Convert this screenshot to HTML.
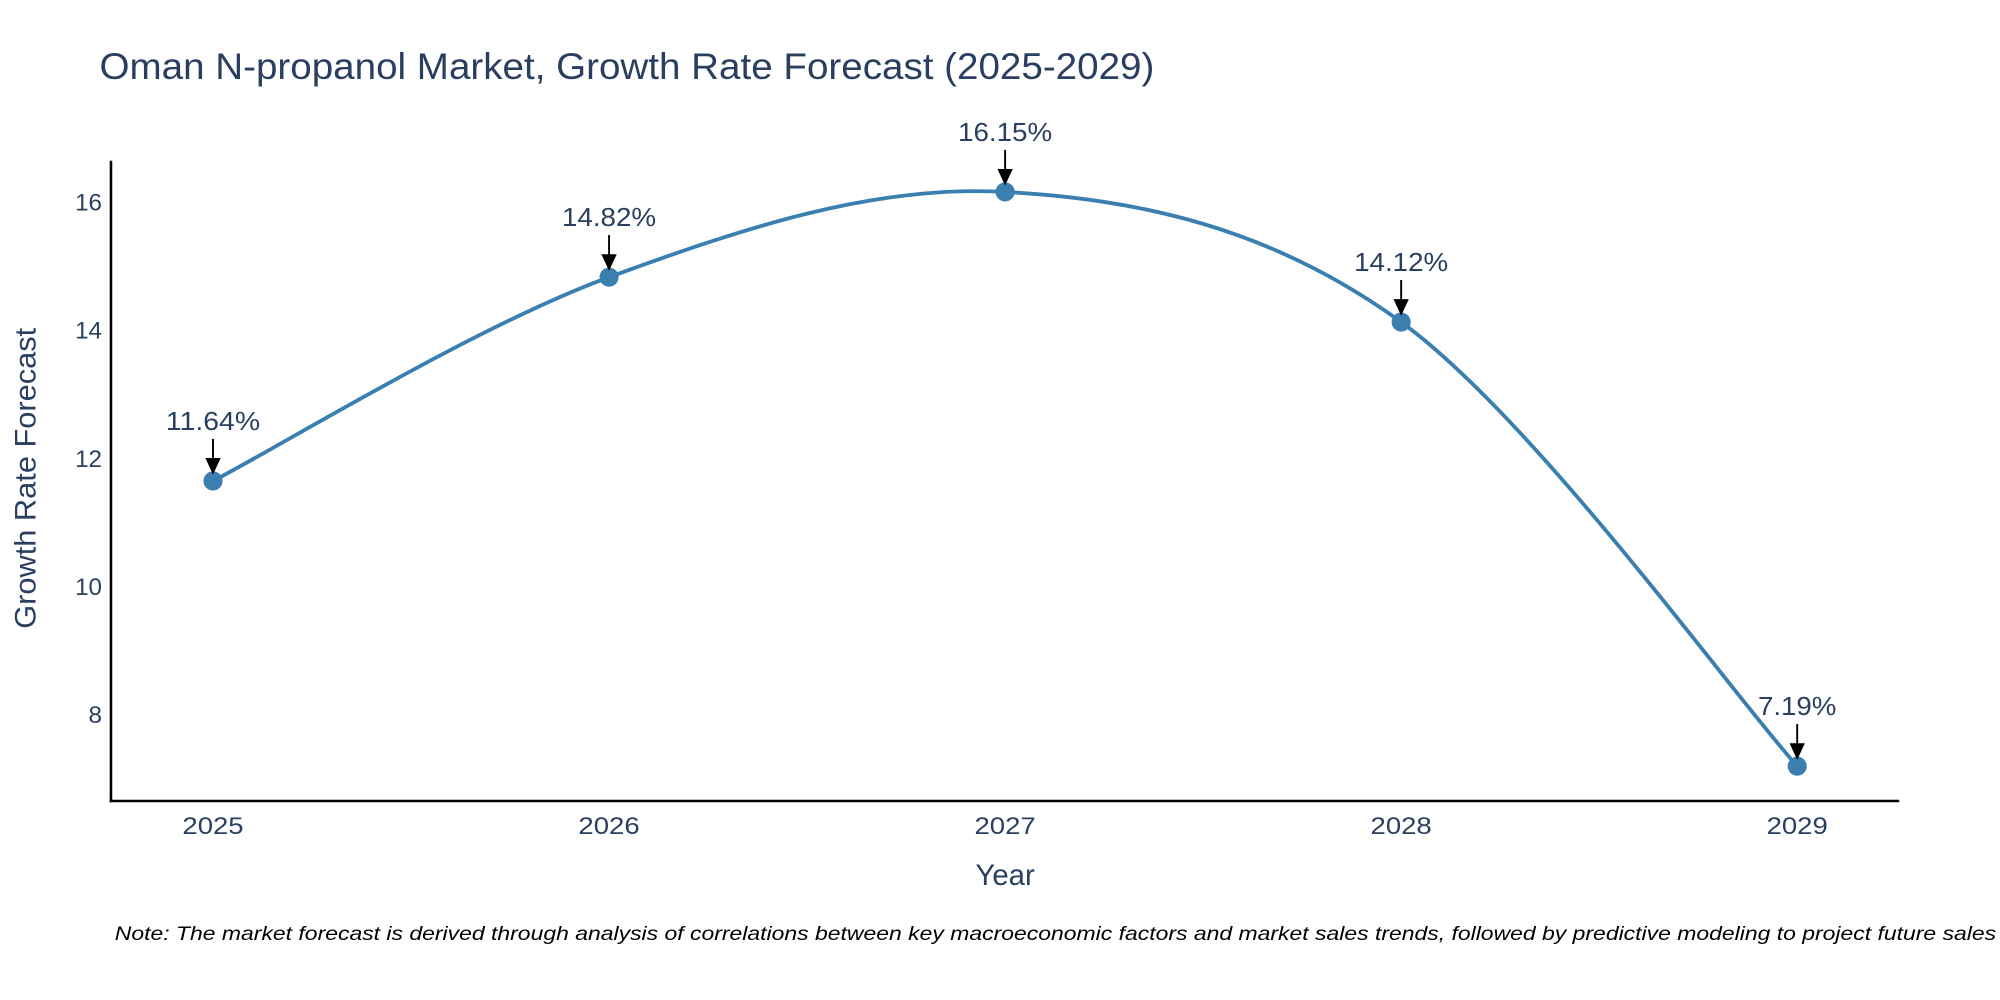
<!DOCTYPE html>
<html><head><meta charset="utf-8"><style>
html,body{margin:0;padding:0;background:#fff}
svg{display:block}
text{font-family:"Liberation Sans",sans-serif}
</style></head><body>
<svg width="2000" height="1000" viewBox="0 0 1568 784" xmlns="http://www.w3.org/2000/svg">
<text x="78" y="62" font-size="29" fill="#2a3f5f" textLength="827" lengthAdjust="spacingAndGlyphs">Oman N-propanol Market, Growth Rate Forecast (2025-2029)</text>
<g id="yticks"></g><g id="xticks"></g>
<line x1="87" y1="126" x2="87" y2="629" stroke="#000" stroke-width="2"/>
<line x1="86" y1="628" x2="1489" y2="628" stroke="#000" stroke-width="2"/>
<path id="line" fill="none" stroke="#3a7fb0" stroke-width="3"/>
<g id="pts"></g><g id="ann"></g>
<text x="28" y="375" font-size="23" fill="#2a3f5f" text-anchor="middle" textLength="236" lengthAdjust="spacingAndGlyphs" transform="rotate(-90 28 375)">Growth Rate Forecast</text>
<text x="788" y="694" font-size="23" fill="#2a3f5f" text-anchor="middle">Year</text>
<text x="90" y="737" font-size="15" font-style="italic" fill="#000" textLength="1475" lengthAdjust="spacingAndGlyphs">Note: The market forecast is derived through analysis of correlations between key macroeconomic factors and market sales trends, followed by predictive modeling to project future sales</text>
</svg>
<script>
const years=["2025","2026","2027","2028","2029"];
const values=[11.64,14.82,16.15,14.12,7.19];
const labels=["11.64%","14.82%","16.15%","14.12%","7.19%"];
const yTicks=[8,10,12,14,16];
const NS="http://www.w3.org/2000/svg";
const xs=i=>167+i*310.5;
const ys=v=>560-(v-8)*50.25;
function mk(t,a){const e=document.createElementNS(NS,t);for(const k in a)e.setAttribute(k,a[k]);return e;}
const yt=document.getElementById('yticks');
yTicks.forEach(v=>{const t=mk('text',{x:80,y:ys(v)+7,'font-size':19,fill:'#2a3f5f','text-anchor':'end'});t.textContent=v;


yt.appendChild(t);});
const xt=document.getElementById('xticks');
years.forEach((y,i)=>{const t=mk('text',{x:xs(i),y:654,'font-size':19,fill:'#2a3f5f','text-anchor':'middle',textLength:48,lengthAdjust:'spacingAndGlyphs'});t.textContent=y;


xt.appendChild(t);});
const P=values.map((v,i)=>[xs(i),ys(v)]);
let d=`M${P[0][0]},${P[0][1]}`;
for(let i=0;i<P.length-1;i++){const p0=P[Math.max(i-1,0)],p1=P[i],p2=P[i+1],p3=P[Math.min(i+2,P.length-1)];const k=1/6;
d+=` C${p1[0]+(p2[0]-p0[0])*k},${p1[1]+(p2[1]-p0[1])*k} ${p2[0]-(p3[0]-p1[0])*k},${p2[1]-(p3[1]-p1[1])*k} ${p2[0]},${p2[1]}`;}
document.getElementById('line').setAttribute('d',d);
const pts=document.getElementById('pts'),ann=document.getElementById('ann');
P.forEach((p,i)=>{const c=mk('circle',{cx:p[0],cy:p[1],r:7.5,fill:'#3a7fb0'});


pts.appendChild(c);
const l=mk('line',{x1:p[0],y1:p[1]-33,x2:p[0],y2:p[1]-16,stroke:'#000','stroke-width':1.5});


ann.appendChild(l);
const h=mk('polygon',{points:`${p[0]-6},${p[1]-18} ${p[0]+6},${p[1]-18} ${p[0]},${p[1]-5}`,fill:'#000'});


ann.appendChild(h);
const t=mk('text',{x:p[0],y:p[1]-40,'font-size':20,fill:'#2a3f5f','text-anchor':'middle',textLength:labels[i].length*12.3,lengthAdjust:'spacingAndGlyphs'});t.textContent=labels[i];


ann.appendChild(t);});
</script>
</body></html>
